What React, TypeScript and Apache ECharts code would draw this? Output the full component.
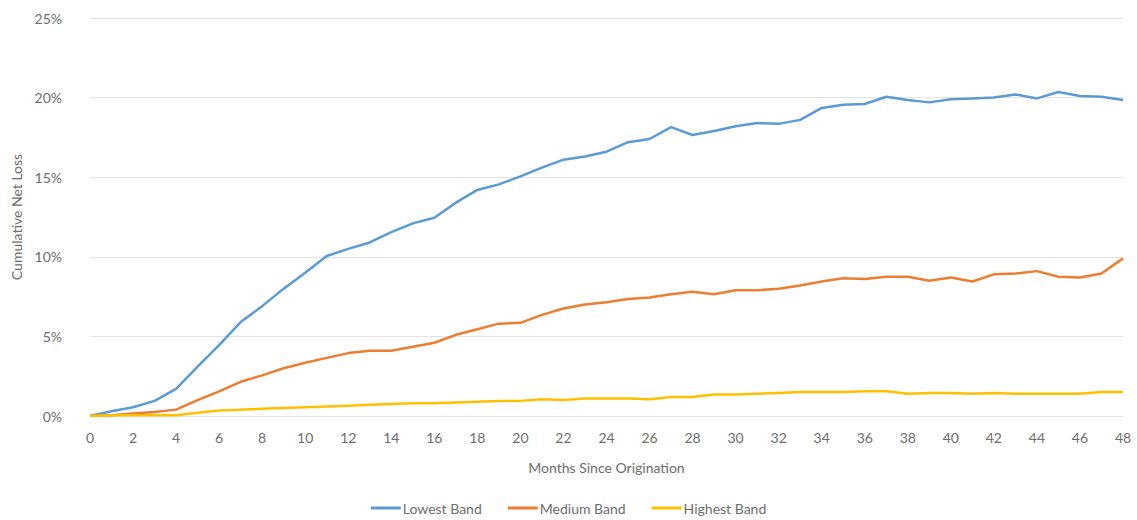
import React, { useEffect, useRef } from "react";
import * as echarts from "echarts";

const months = Array.from({ length: 49 }, (_, i) => String(i));

const lowestBand = [
  0, 0.3, 0.55, 0.95, 1.7, 3.1, 4.45, 5.9, 6.9, 8.0, 9.0, 10.05, 10.5, 10.9, 11.55, 12.1, 12.45,
  13.4, 14.2, 14.55, 15.05, 15.6, 16.1, 16.3, 16.6, 17.2, 17.4, 18.15, 17.65, 17.9, 18.2, 18.4,
  18.35, 18.6, 19.35, 19.55, 19.6, 20.05, 19.85, 19.7, 19.9, 19.95, 20.0, 20.2, 19.95, 20.35,
  20.1, 20.05, 19.85,
];

const mediumBand = [
  0, 0.05, 0.15, 0.25, 0.4, 1.0, 1.55, 2.15, 2.55, 3.0, 3.35, 3.65, 3.95, 4.1, 4.1, 4.35, 4.6,
  5.1, 5.45, 5.8, 5.85, 6.35, 6.75, 7.0, 7.15, 7.35, 7.45, 7.65, 7.8, 7.65, 7.9, 7.9, 8.0, 8.2,
  8.45, 8.65, 8.6, 8.75, 8.75, 8.5, 8.7, 8.45, 8.9, 8.95, 9.1, 8.75, 8.7, 8.95, 9.9,
];

const highestBand = [
  0, 0.05, 0.05, 0.05, 0.05, 0.2, 0.35, 0.4, 0.45, 0.5, 0.55, 0.6, 0.65, 0.7, 0.75, 0.8, 0.8,
  0.85, 0.9, 0.95, 0.95, 1.05, 1.0, 1.1, 1.1, 1.1, 1.05, 1.2, 1.2, 1.35, 1.35, 1.4, 1.45, 1.5,
  1.5, 1.5, 1.55, 1.55, 1.4, 1.45, 1.45, 1.4, 1.45, 1.4, 1.4, 1.4, 1.4, 1.5, 1.5,
];

const seriesNames = ["Lowest Band", "Medium Band", "Highest Band"];
const colors = ["#5B9BD5", "#ED7D31", "#FFC000"];

const FONT = "Lato, 'Noto Sans', sans-serif";
const TEXT = "#6e6e6e";

export default function App() {
  const ref = useRef<HTMLDivElement>(null);
  useEffect(() => {
    if (!ref.current) return;
    const chart = echarts.init(ref.current, undefined, { renderer: "svg" });
    const data = [lowestBand, mediumBand, highestBand];
    chart.setOption({
      animation: false,
      textStyle: { fontFamily: FONT },
      grid: { left: 90, right: 14, top: 18, bottom: 104, containLabel: false },
      legend: {
        bottom: 0,
        left: "center",
        itemWidth: 30,
        itemHeight: 3,
        itemGap: 26,
        icon: "rect",
        textStyle: { color: TEXT, fontSize: 14, fontFamily: FONT, padding: [0, 0, 0, -3] },
        data: seriesNames,
      },
      xAxis: {
        type: "category",
        data: months,
        boundaryGap: false,
        name: "Months Since Origination",
        nameLocation: "middle",
        nameGap: 44,
        nameTextStyle: { color: TEXT, fontSize: 14, fontFamily: FONT },
        axisLine: { show: false },
        axisTick: { show: false },
        axisLabel: { interval: 1, color: TEXT, fontSize: 14, margin: 14, fontFamily: FONT },
      },
      yAxis: {
        type: "value",
        min: 0,
        max: 25,
        interval: 5,
        name: "Cumulative Net Loss",
        nameLocation: "middle",
        nameGap: 66,
        nameTextStyle: { color: TEXT, fontSize: 14, fontFamily: FONT },
        axisLabel: { formatter: "{value}%", color: TEXT, fontSize: 14, margin: 28, fontFamily: FONT },
        splitLine: { lineStyle: { color: "#e3e3e3", width: 1 } },
        axisLine: { show: false },
        axisTick: { show: false },
      },
      series: seriesNames.map((name, i) => ({
        name,
        type: "line",
        data: data[i],
        showSymbol: false,
        symbol: "none",
        lineStyle: { color: colors[i], width: 2.5 },
        itemStyle: { color: colors[i] },
      })),
    });
    return () => chart.dispose();
  }, []);
  return <div ref={ref} style={{ width: 1137, height: 520, position: "absolute", left: 0, top: 0 }} />;
}
